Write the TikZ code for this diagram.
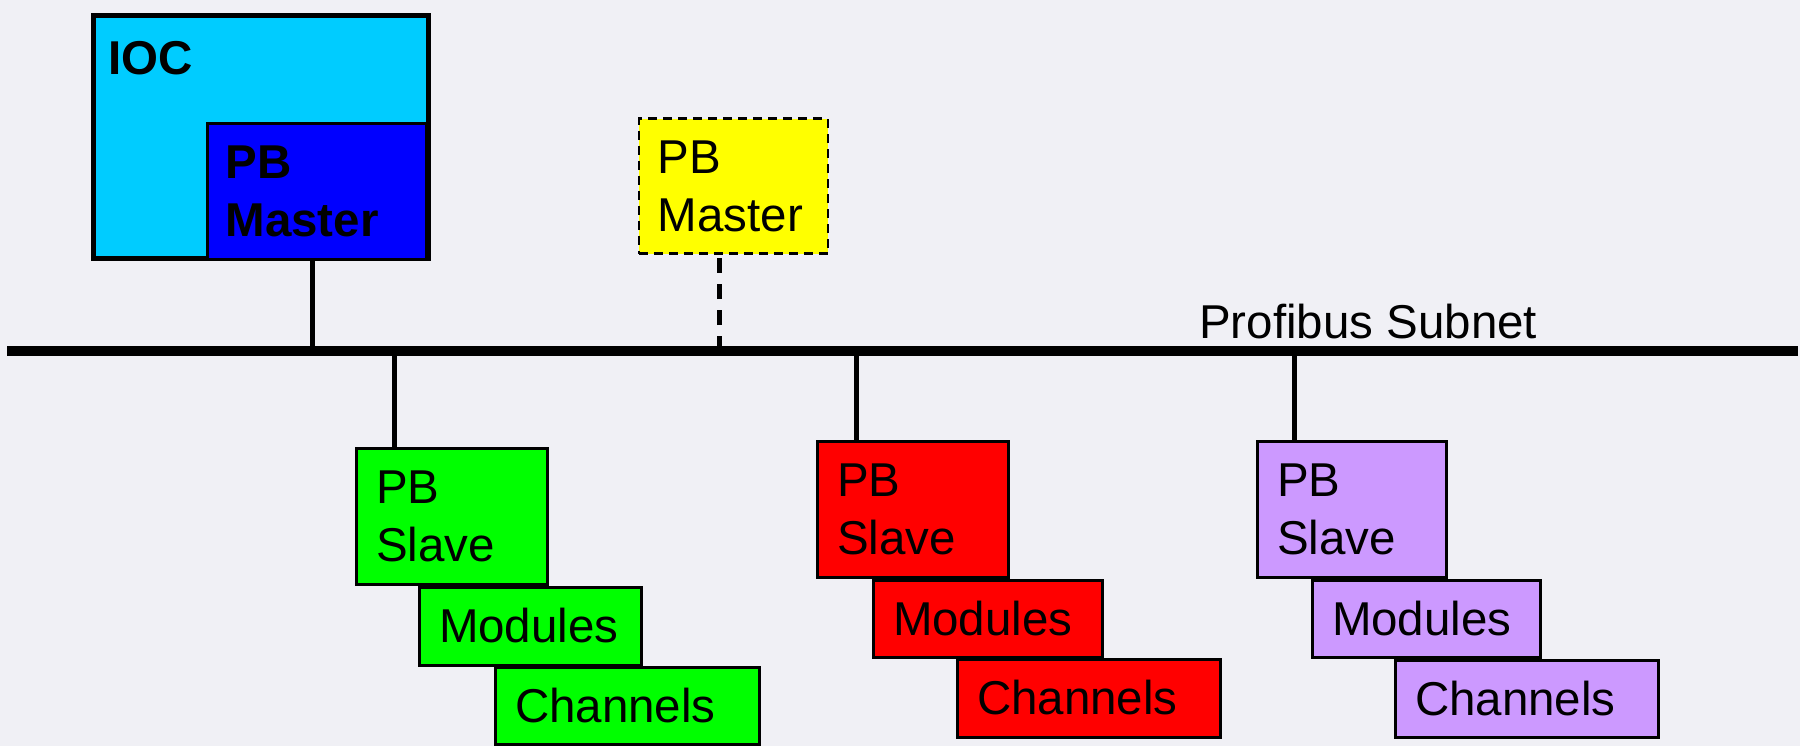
\documentclass[tikz,border=0pt]{standalone}
\usepackage{fontspec}
\setmainfont{Liberation Sans}
\definecolor{bgcol}{RGB}{240,240,245}
\definecolor{ioccyan}{RGB}{0,204,255}
\definecolor{mblue}{RGB}{0,0,255}
\definecolor{myellow}{RGB}{255,255,0}
\definecolor{sgreen}{RGB}{0,255,0}
\definecolor{sred}{RGB}{255,0,0}
\definecolor{spurple}{RGB}{204,153,255}
\begin{document}
\begin{tikzpicture}[x=1pt,y=-1pt,
  box/.style={draw=black, line width=3pt, anchor=north west, rectangle,
    inner xsep=20pt, inner ysep=0pt, align=left,
    font=\fontsize{47.5pt}{58pt}\selectfont},
  conn/.style={draw=black, line width=5pt},
  bus/.style={draw=black, line width=10pt}]
\path[use as bounding box, fill=bgcol] (0,0) rectangle (1800,746);

% IOC with PB master
\node[box, fill=ioccyan, line width=5pt, inner xsep=15pt, minimum width=335pt,
  text width=305pt, text height=59pt, text depth=184pt,
  font=\fontsize{47.5pt}{58pt}\selectfont\bfseries] (ioc) at (91,13) {IOC};
\node[box, fill=mblue, inner xsep=18pt, minimum width=219pt, minimum height=136pt,
  text width=183pt, font=\fontsize{47.5pt}{58pt}\selectfont\bfseries] (blue) at (206,122) {PB\\Master};

% optional master
\node[box, fill=myellow, dashed, dash pattern=on 9pt off 6pt, line width=2.5pt,
  inner xsep=19pt, minimum width=189pt, minimum height=135pt, text width=151pt] (ym) at (637.5,117.5) {PB\\Master};

% bus
\coordinate (busL) at (7,351);
\coordinate (busR) at (1798,351);
\draw[bus] (busL) -- (busR);
\node[anchor=base west, inner sep=0pt, font=\fontsize{47.5pt}{58pt}\selectfont] (subnet) at (1199,338) {Profibus Subnet};

% green slave
\node[box, fill=sgreen, minimum width=222pt, minimum height=78pt, text width=182pt] (gm) at (417.5,585.5) {Modules};
\node[box, fill=sgreen, minimum width=264pt, minimum height=77pt, text width=224pt] (gch) at (493.5,665.5) {Channels};
\node[box, fill=sgreen, minimum width=191pt, minimum height=136pt, text width=151pt] (gs) at (354.5,446.5) {PB\\Slave};

% red slave
\node[box, fill=sred, minimum width=229pt, minimum height=77pt, text width=189pt] (rm) at (871.5,578.5) {Modules};
\node[box, fill=sred, minimum width=263pt, minimum height=78pt, text width=223pt] (rch) at (955.5,657.5) {Channels};
\node[box, fill=sred, minimum width=191pt, minimum height=136pt, text width=151pt] (rs) at (815.5,439.5) {PB\\Slave};

% purple slave
\node[box, fill=spurple, minimum width=228pt, minimum height=77pt, text width=188pt] (pm) at (1310.5,578.5) {Modules};
\node[box, fill=spurple, minimum width=263pt, minimum height=77pt, text width=223pt] (pch) at (1393.5,658.5) {Channels};
\node[box, fill=spurple, minimum width=189pt, minimum height=136pt, text width=149pt] (ps) at (1255.5,439.5) {PB\\Slave};

% connectors
\coordinate (bc) at ([xshift=-4.5pt]blue.south);
\coordinate (yc) at ([xshift=81.5pt]ym.south west);
\coordinate (gc) at ([xshift=40pt]gs.north west);
\coordinate (rc) at ([xshift=40.5pt]rs.north west);
\coordinate (pc) at ([xshift=38.5pt]ps.north west);
\draw[conn] (bc) -- (bc |- busL);
\draw[conn, dash pattern=on 15pt off 11pt] (yc |- busL) -- (yc);
\draw[conn] (gc) -- (gc |- busL);
\draw[conn] (rc) -- (rc |- busL);
\draw[conn] (pc) -- (pc |- busL);
\end{tikzpicture}
\end{document}
